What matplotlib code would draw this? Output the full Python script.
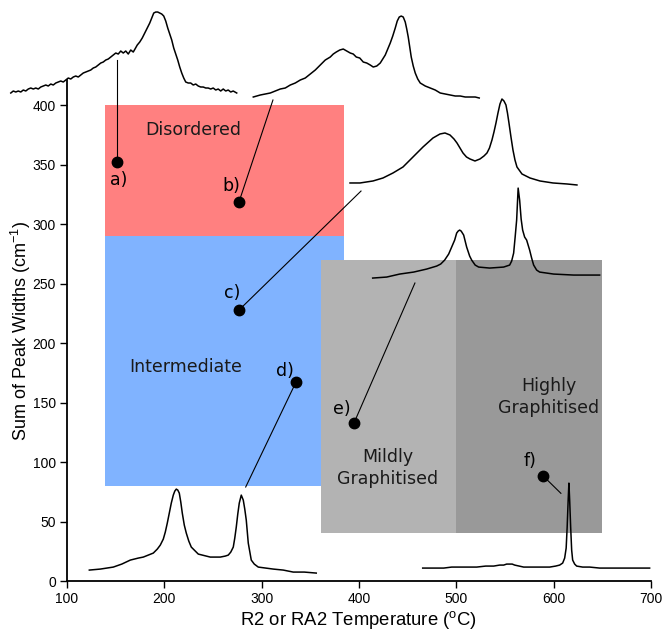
import matplotlib
matplotlib.use("Agg")
import matplotlib.pyplot as plt
from matplotlib.patches import Rectangle

plt.rcParams['font.family'] = ['Liberation Sans', 'DejaVu Sans']
plt.rcParams['mathtext.fontset'] = 'custom'
plt.rcParams['mathtext.rm'] = 'Liberation Sans'
plt.rcParams['mathtext.it'] = 'Liberation Sans'
plt.rcParams['mathtext.default'] = 'regular'

# ---------------- data ----------------
# measured samples: R2/RA2 temperature (C) vs sum of peak widths (cm-1)
sample_labels = ["a)", "b)", "c)", "d)", "e)", "f)"]
sample_temp = [151.0, 276.7, 276.7, 335.3, 394.9, 589.4]
sample_width = [352.5, 318.5, 227.7, 167.2, 132.8, 88.2]

# classification regions: name, temperature range, width range
region_names = ["Disordered", "Intermediate", "Mildly\nGraphitised", "Highly\nGraphitised"]
region_temp = [(139, 385), (139, 385), (361, 500), (500, 650)]
region_width = [(290, 400), (80, 290), (40, 270), (40, 270)]

# Raman spectra (Raman shift cm-1, intensity a.u.)
spec_a_shift = [1000, 1010, 1020, 1030, 1040, 1050, 1060, 1070, 1080, 1090, 1100, 1110, 1120, 1130,
                1140, 1150, 1160, 1170, 1180, 1190, 1200, 1210, 1220, 1230, 1240, 1250, 1260, 1270,
                1280, 1290, 1300, 1310, 1320, 1330, 1340, 1350, 1360, 1370, 1380, 1390, 1400, 1410,
                1420, 1430, 1440, 1450, 1460, 1470, 1480, 1490, 1497, 1506, 1516, 1526, 1536, 1546,
                1556, 1564, 1572, 1580, 1588, 1596, 1604, 1612, 1620, 1628, 1636, 1644, 1652, 1660,
                1668, 1676, 1684, 1692, 1700, 1710, 1720, 1730, 1740, 1750, 1760, 1770, 1780, 1790,
                1800, 1810, 1820, 1830, 1840, 1850, 1860, 1870, 1880, 1890, 1904]
spec_a_int = [7, 9, 8, 9, 8, 10, 9, 11, 12, 11, 12, 11, 13, 14,
              15, 14, 16, 15, 17, 18, 19, 18, 20, 22, 21, 23, 24, 23,
              25, 27, 28, 29, 30, 32, 33, 35, 37, 38, 40, 41, 43, 45,
              47, 46, 49, 47, 49, 46, 50, 48, 51, 55, 58, 62, 67, 72,
              77, 82, 87, 88, 88, 87, 86, 84, 79, 72, 66, 60, 52, 46,
              40, 33, 27, 22, 18, 17, 17, 15, 16, 14, 13, 13, 12, 12,
              11, 12, 10, 11, 9, 11, 9, 10, 8, 9, 7]

spec_b_shift = [1000, 1014, 1028, 1048, 1068, 1088, 1108, 1128, 1148, 1168, 1188, 1208, 1228,
                1248, 1268, 1288, 1308, 1320, 1332, 1346, 1360, 1374, 1388, 1400, 1412, 1426,
                1440, 1454, 1468, 1480, 1494, 1508, 1518, 1528, 1538, 1548, 1558, 1568, 1576,
                1584, 1592, 1600, 1608, 1614, 1620, 1626, 1632, 1640, 1648, 1658, 1668, 1688,
                1708, 1728, 1748, 1768, 1788, 1808, 1828, 1848, 1868, 1888, 1904]
spec_b_int = [3, 4, 5, 6, 7, 9, 11, 12, 15, 17, 20, 22, 26,
              30, 35, 40, 43, 46, 48, 50, 51, 49, 47, 46, 43, 42,
              38, 37, 35, 33, 34, 37, 41, 45, 51, 57, 64, 72, 79,
              83, 84, 83, 78, 71, 63, 53, 43, 34, 27, 21, 17, 14,
              12, 10, 7, 6, 5, 4, 4, 3, 3, 3, 2]

spec_c_shift = [1000, 1040, 1092, 1132, 1172, 1212, 1252, 1292, 1332, 1360, 1380, 1400, 1416,
                1428, 1440, 1452, 1466, 1480, 1500, 1520, 1536, 1548, 1558, 1568, 1576, 1584,
                1592, 1600, 1608, 1616, 1624, 1630, 1636, 1644, 1652, 1660, 1668,
                1688, 1720, 1760, 1812, 1868, 1908]
spec_c_int = [7, 7, 9, 12, 17, 23, 33, 43, 52, 56, 57, 55, 51,
              47, 42, 37, 33, 31, 29, 31, 34, 37, 42, 50, 58, 67,
              77, 86, 91, 89, 85, 77, 67, 53, 40, 30, 23,
              16, 12, 9, 7, 6, 5]

spec_d_shift = [1000, 1056, 1108, 1164, 1216, 1256, 1272, 1288, 1304, 1316, 1328, 1336, 1342,
                1348, 1354, 1364, 1376, 1388, 1396, 1410, 1424, 1468, 1524, 1548, 1556, 1564,
                1570, 1576, 1582, 1588, 1594, 1600, 1608, 1616, 1628, 1636, 1644, 1656, 1668,
                1724, 1804, 1908]
spec_d_int = [7, 8, 11, 13, 16, 19, 21, 25, 31, 38, 45, 52, 54,
              55, 54, 50, 38, 29, 25, 20, 18, 17, 18, 20, 24, 32,
              48, 65, 97, 85, 66, 55, 48, 45, 35, 27, 20, 15, 13,
              11, 10, 10]

spec_e_shift = [1000, 1044, 1096, 1130, 1164, 1196, 1216, 1256, 1272, 1284, 1296, 1304, 1312,
                1320, 1328, 1336, 1342, 1348, 1354, 1360, 1366, 1372, 1380, 1388, 1398, 1408,
                1436, 1484, 1524, 1544, 1556, 1566, 1576, 1582, 1588, 1594, 1600, 1608, 1616,
                1622, 1628, 1636, 1648, 1660, 1676, 1706, 1736, 1776, 1816, 1860, 1908]
spec_e_int = [10, 11, 13, 16, 20, 22, 23, 27, 31, 35, 41, 48, 57,
              67, 77, 85, 89, 91, 90, 87, 78, 67, 55, 47, 39, 33,
              26, 23, 23, 24, 25, 28, 33, 42, 53, 66, 77, 85, 80,
              71, 60, 37, 20, 16, 13, 12, 11, 10, 8, 8, 7]

spec_f_shift = [1000, 1040, 1084, 1116, 1148, 1184, 1216, 1252, 1284, 1308, 1324, 1336, 1348,
                1358, 1368, 1386, 1404, 1456, 1508, 1532, 1548, 1560, 1568, 1574,
                1578, 1582, 1585, 1588, 1592, 1596, 1600, 1608, 1616, 1640, 1668, 1708, 1748,
                1788, 1828, 1868, 1908]
spec_f_int = [7, 7, 7, 8, 8, 8, 8, 9, 9, 10, 10, 11, 11,
              11, 10, 9, 8, 8, 8, 9, 10, 12, 17, 27,
              48, 75, 92, 75, 48, 25, 15, 11, 9, 8, 8, 7, 7,
              7, 7, 7, 7]

spectra_shift = [spec_a_shift, spec_b_shift, spec_c_shift, spec_d_shift, spec_e_shift, spec_f_shift]
spectra_int = [spec_a_int, spec_b_int, spec_c_int, spec_d_int, spec_e_int, spec_f_int]

# ---------------- layout / style ----------------
region_colors = ["#FF8080", "#80B3FF", "#B3B3B3", "#999999"]
region_text_pos = [(229.5, 379), (222.3, 180), (429.8, 95), (595.2, 154.5)]

# inset placement (data coords of main axes): left, bottom ; width/height shared
inset_origin = [(42.2, 404.2), (291.4, 404.2), (390.8, 328.6), (414.1, 248.7), (122.9, 0.8), (465.5, 5.0)]
inset_w, inset_h = 233.2, 84.0
# connector end points (where the leader line meets the spectrum)
connector_end = [(151.0, 437.8), (311.6, 404.2), (402.1, 327.7), (283.6, 79.0), (457.5, 250.4), (607.5, 73.7)]
label_offsets = [(1.5, -13), (-5.8, 11.5), (-5.0, 12.0), (-8.0, 8.0), (-8.6, 10.0), (-9.4, 10.8)]

fig = plt.figure(figsize=(6.65, 6.31), dpi=100)
ax = fig.add_axes([0.1008, 0.0792, 0.878, 0.794])
ax.set_xlim(100, 700)
ax.set_ylim(0, 421)
for s in ["top", "right"]:
    ax.spines[s].set_visible(False)
ax.spines["left"].set_linewidth(1.3)
ax.spines["bottom"].set_linewidth(1.3)
ax.set_xticks(range(100, 701, 100))
ax.set_yticks(range(0, 401, 50))
ax.tick_params(direction="out", length=5, width=1.0, labelsize=10, pad=3)
ax.set_xlabel("R2 or RA2 Temperature ($^{o}$C)", fontsize=13.3, labelpad=2)
ax.set_ylabel("Sum of Peak Widths (cm$^{-1}$)", fontsize=13, labelpad=0)

for (t0, t1), (w0, w1), col, name, pos in zip(region_temp, region_width, region_colors,
                                                region_names, region_text_pos):
    ax.add_patch(Rectangle((t0, w0), t1 - t0, w1 - w0, facecolor=col, edgecolor="none", zorder=1))
    ax.text(pos[0], pos[1], name, ha="center", va="center", fontsize=12.5,
            family="DejaVu Sans", color="#1a1a1a", zorder=2, linespacing=1.25)

for shift, inten, (x0, y0) in zip(spectra_shift, spectra_int, inset_origin):
    ia = ax.inset_axes([x0, y0, inset_w, inset_h], transform=ax.transData, zorder=3)
    ia.plot(shift, inten, color="black", lw=1.1, clip_on=False)
    ia.set_xlim(1000, 1908)
    ia.set_ylim(0, 100)
    ia.axis("off")
    ia.patch.set_visible(False)

for t, w, (ex, ey), lab, off in zip(sample_temp, sample_width, connector_end, sample_labels, label_offsets):
    ax.plot([t, ex], [w, ey], color="black", lw=0.8, zorder=4, clip_on=False)
    ax.plot(t, w, "o", color="black", ms=7.5, zorder=5)
    ax.annotate(lab, (t, w), xytext=off, textcoords="offset points", ha="center", va="center",
                fontsize=12.5, family="DejaVu Sans", zorder=6)

fig.savefig("out.png", dpi=100)
